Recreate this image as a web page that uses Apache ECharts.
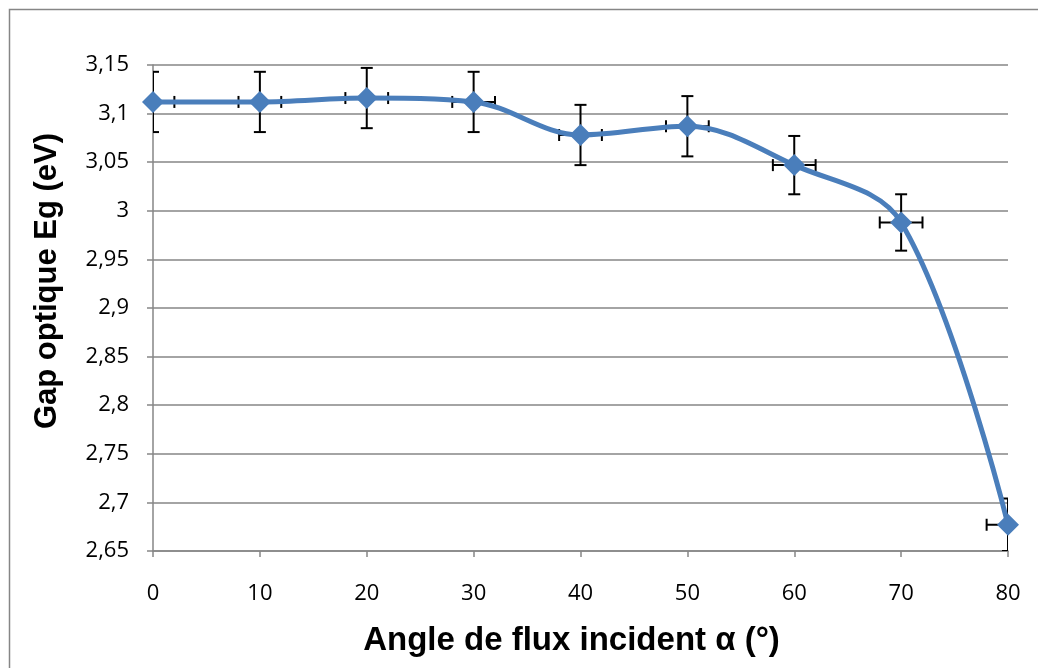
<!DOCTYPE html>
<html>
<head>
<meta charset="utf-8">
<script src="https://cdn.jsdelivr.net/npm/echarts@6/dist/echarts.min.js"></script>
<style>
html,body{margin:0;padding:0;background:#fff;}
#chart{width:1038px;height:668px;}
</style>
</head>
<body>
<div id="chart"></div>
<script>
const angles = [0, 10, 20, 30, 40, 50, 60, 70, 80];
const gapValues = [3.112, 3.112, 3.116, 3.112, 3.078, 3.087, 3.047, 2.988, 2.677];
const yErrors = [0.031, 0.031, 0.031, 0.031, 0.031, 0.031, 0.030, 0.029, 0.027];
const xErrors = [2, 2, 2, 2, 2, 2, 2, 2, 2];
const yTicks = { min: 2.65, max: 3.15, interval: 0.05 };
const xTicks = { min: 0, max: 80, interval: 10 };

const lineData = angles.map((a, i) => [a, gapValues[i]]);
const errData = angles.map((a, i) => [a, gapValues[i], xErrors[i], yErrors[i]]);

const chart = echarts.init(document.getElementById('chart'), null, {renderer: 'canvas'});

function renderErr(params, api) {
  const x = api.value(0), y = api.value(1), dx = api.value(2), dy = api.value(3);
  const top = api.coord([x, y + dy]);
  const bot = api.coord([x, y - dy]);
  const left = api.coord([x - dx, y]);
  const right = api.coord([x + dx, y]);
  const cap = 6;
  const style = {stroke: '#000', lineWidth: 2, fill: null};
  return {
    type: 'group',
    children: [
      {type: 'line', shape: {x1: top[0], y1: top[1], x2: bot[0], y2: bot[1]}, style},
      {type: 'line', shape: {x1: top[0] - cap, y1: top[1], x2: top[0] + cap, y2: top[1]}, style},
      {type: 'line', shape: {x1: bot[0] - cap, y1: bot[1], x2: bot[0] + cap, y2: bot[1]}, style},
      {type: 'line', shape: {x1: left[0], y1: left[1], x2: right[0], y2: right[1]}, style},
      {type: 'line', shape: {x1: left[0], y1: left[1] - cap, x2: left[0], y2: left[1] + cap}, style},
      {type: 'line', shape: {x1: right[0], y1: right[1] - cap, x2: right[0], y2: right[1] + cap}, style}
    ]
  };
}

const tickFont = {fontFamily: 'Open Sans, Liberation Sans, sans-serif', fontSize: 22, color: '#000'};

const option = {
  backgroundColor: '#fff',
  animation: false,
  graphic: [{
    type: 'rect', left: 7, top: 7, z: -10,
    shape: {x: 0, y: 0, width: 1100, height: 720},
    style: {fill: null, stroke: '#868686', lineWidth: 1.5}
  }],
  grid: {left: 153, right: 30, top: 65, bottom: 117, containLabel: false},
  xAxis: {
    type: 'value', min: xTicks.min, max: xTicks.max, interval: xTicks.interval,
    name: 'Angle de flux incident α (°)',
    nameLocation: 'middle', nameGap: 73,
    nameTextStyle: {fontFamily: 'Liberation Sans, Arial, sans-serif', fontWeight: 'bold', fontSize: 33, color: '#000', padding: [0, 18, 0, 0]},
    axisLine: {show: true, lineStyle: {color: '#868686', width: 1.5}},
    axisTick: {show: true, inside: false, length: 6, lineStyle: {color: '#868686', width: 1.5}},
    axisLabel: Object.assign({margin: 32}, tickFont),
    splitLine: {show: false}
  },
  yAxis: {
    type: 'value', min: yTicks.min, max: yTicks.max, interval: yTicks.interval,
    name: 'Gap optique Eg (eV)',
    nameLocation: 'middle', nameGap: 90, nameRotate: 90,
    nameTextStyle: {fontFamily: 'Liberation Sans, Arial, sans-serif', fontWeight: 'bold', fontSize: 31, color: '#000', padding: [0, 0, 0, 54]},
    axisLine: {show: true, lineStyle: {color: '#868686', width: 1.5}},
    axisTick: {show: true, inside: false, length: 6, lineStyle: {color: '#868686', width: 1.5}},
    axisLabel: Object.assign({
      margin: 24,
      formatter: v => String(parseFloat(v.toFixed(2))).replace('.', ',')
    }, tickFont),
    splitLine: {show: true, lineStyle: {color: '#868686', width: 1.5}}
  },
  series: [
    {
      type: 'custom', data: errData, renderItem: renderErr, clip: true, z: 1,
      encode: {x: 0, y: 1}
    },
    {
      type: 'line', data: lineData, smooth: 0.35, z: 3,
      symbol: 'diamond', symbolSize: 22,
      lineStyle: {color: '#4A7EBB', width: 5},
      itemStyle: {color: '#4A7EBB'}
    }
  ]
};
chart.setOption(option);
</script>
</body>
</html>
